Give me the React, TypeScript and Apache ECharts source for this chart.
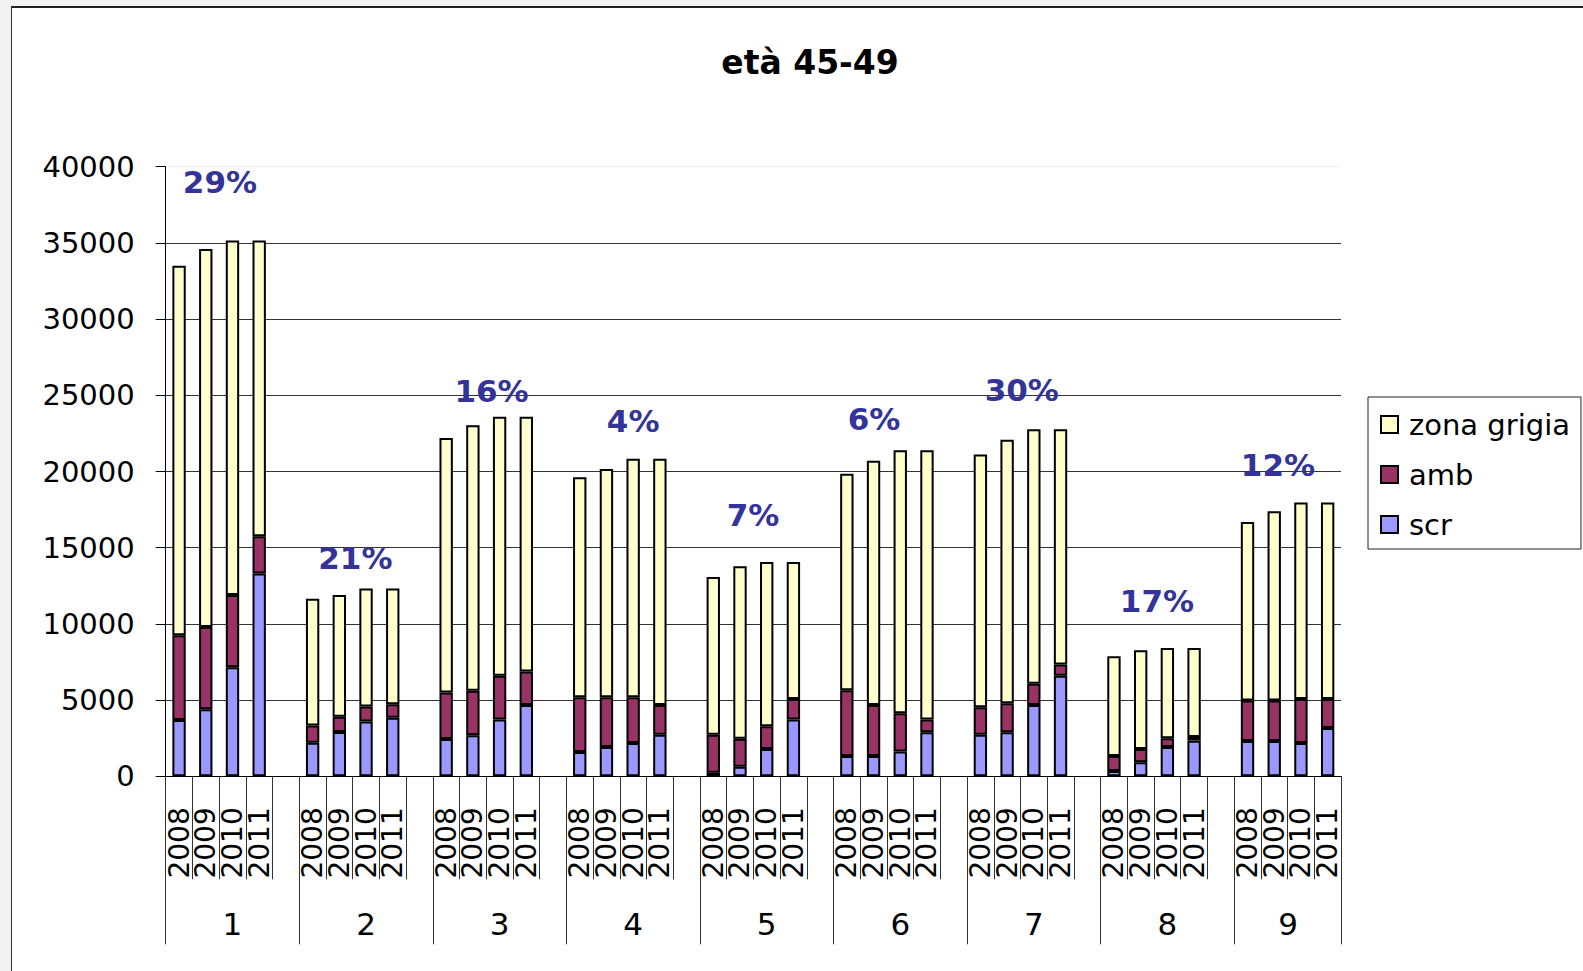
import React, { useEffect, useRef } from 'react';
import * as echarts from 'echarts';

const FONT = "'DejaVu Sans'";

const title = 'età 45-49';
const years = ['2008', '2009', '2010', '2011'];
const groups = ['1', '2', '3', '4', '5', '6', '7', '8', '9'];

// per group: 2008, 2009, 2010, 2011
const scr = [
  3700, 4400, 7150, 13300,
  2200, 2900, 3600, 3850,
  2450, 2700, 3720, 4680,
  1600, 1930, 2190, 2730,
  240, 630, 1790, 3720,
  1330, 1330, 1620, 2890,
  2730, 2890, 4680, 6600,
  350, 920, 1930, 2340,
  2320, 2320, 2190, 3170,
];
const amb = [
  5550, 5400, 4750, 2450,
  1130, 1000, 980, 870,
  3050, 2920, 2880, 2190,
  3580, 3250, 2990, 1950,
  2490, 1840, 1490, 1350,
  4310, 3350, 2510, 830,
  1800, 1900, 1400, 730,
  980, 870, 560, 240,
  2650, 2650, 2880, 1900,
];
const zonaGrigia = [
  24250, 24800, 23250, 19400,
  8320, 8000, 7740, 7600,
  16700, 17410, 17000, 16730,
  14440, 14990, 15660, 16160,
  10350, 11310, 10780, 8990,
  14220, 16030, 17260, 17670,
  16580, 17300, 16690, 15440,
  6540, 6480, 5930, 5840,
  11720, 12420, 12890, 12890,
];

const pctText = ['29%', '21%', '16%', '4%', '7%', '6%', '30%', '17%', '12%'];
const pctX = [1.53, 6.6, 11.7, 17.0, 21.49, 26.02, 31.55, 36.61, 41.14];
const pctY = [39000, 14300, 25250, 23300, 17150, 23450, 25350, 11500, 20450];

const yTicks = { min: 0, max: 40000, interval: 5000 };

// build slots: 4 years per group, one blank slot between groups
const yearCats: string[] = [];
const groupCats: string[] = [];
const scrData: (number | string)[] = [];
const ambData: (number | string)[] = [];
const zgData: (number | string)[] = [];
const groupStart: number[] = [];
groups.forEach((g, gi) => {
  groupStart.push(yearCats.length);
  years.forEach((y, yi) => {
    const k = gi * years.length + yi;
    yearCats.push(y);
    groupCats.push('');
    scrData.push(scr[k]);
    ambData.push(amb[k]);
    zgData.push(zonaGrigia[k]);
  });
  if (gi < groups.length - 1) {
    yearCats.push('');
    groupCats.push('');
    scrData.push('-');
    ambData.push('-');
    zgData.push('-');
  }
});
const lastGroup = groups.length - 1;
groups.forEach((g, gi) => {
  const idx = gi < lastGroup ? groupStart[gi] + 2 : groupStart[gi] + 1;
  groupCats[idx] = g;
});
const lastLabelIdx = groupStart[lastGroup] + 1;
const nSlots = yearCats.length;

const barStyle = (color: string) => ({ color, borderColor: '#000', borderWidth: 2 });

export default function App() {
  const ref = useRef<HTMLDivElement>(null);
  useEffect(() => {
    const chart = echarts.init(ref.current!, null, { renderer: 'svg' });
    const splitColors: string[] = [];
    for (let v = yTicks.min; v <= yTicks.max; v += yTicks.interval) {
      splitColors.push(v === yTicks.max ? '#eeeeee' : '#333333');
    }
    chart.setOption({
      animation: false,
      textStyle: { fontFamily: FONT },
      title: {
        text: title,
        left: 805,
        textAlign: 'center',
        top: 41,
        textStyle: { fontFamily: FONT, fontSize: 33, fontWeight: 'bold', color: '#000' },
      },
      legend: {
        orient: 'vertical',
        left: 1368,
        top: 397,
        data: ['zona grigia', 'amb', 'scr'],
        icon: 'rect',
        itemWidth: 17,
        itemHeight: 17,
        itemGap: 21,
        padding: [13, 11, 10, 12],
        backgroundColor: '#fff',
        borderColor: '#222',
        borderWidth: 1,
        borderRadius: 0,
        textStyle: { fontFamily: FONT, fontSize: 29, color: '#000', padding: [0, 0, 0, 6] },
      },
      grid: { left: 165.7, right: 242, top: 166.7, bottom: 194.7, containLabel: false },
      xAxis: [
        {
          type: 'category',
          data: yearCats,
          position: 'bottom',
          axisLine: { show: true, onZero: false, lineStyle: { color: '#000', width: 1 } },
          axisTick: { show: true, interval: 0, length: 103, lineStyle: { color: '#333', width: 1 } },
          axisLabel: {
            interval: 0,
            rotate: 90,
            margin: 31,
            fontSize: 28,
            fontFamily: FONT,
            color: '#000',
          },
          splitLine: { show: false },
        },
        {
          type: 'category',
          data: groupCats,
          position: 'bottom',
          axisLine: { show: false, onZero: false },
          axisTick: {
            show: true,
            interval: (i: number) => groupStart.includes(i),
            length: 168,
            lineStyle: { color: '#333', width: 1 },
          },
          axisLabel: {
            interval: (i: number) => groupCats[i] !== '',
            margin: 132,
            fontSize: 31,
            fontFamily: FONT,
            color: '#000',
            formatter: (v: string, i: number) => (i === lastLabelIdx ? `{last|${v}}` : v),
            rich: {
              last: { fontSize: 31, fontFamily: FONT, color: '#000', padding: [0, 0, 0, 28] },
            },
          },
          splitLine: { show: false },
        },
        { type: 'value', min: -0.5, max: nSlots - 0.5, show: false },
      ],
      yAxis: {
        type: 'value',
        min: yTicks.min,
        max: yTicks.max,
        interval: yTicks.interval,
        axisLine: { show: true, onZero: false, lineStyle: { color: '#000', width: 1 } },
        axisTick: { show: true, inside: false, length: 10, lineStyle: { color: '#000' } },
        axisLabel: {
          margin: 31,
          fontSize: 29,
          fontFamily: FONT,
          color: '#000',
          formatter: (v: number) => String(v),
        },
        splitLine: { show: true, lineStyle: { color: splitColors, width: 1 } },
      },
      series: [
        { name: 'scr', type: 'bar', stack: 'tot', xAxisIndex: 0, barWidth: '50%', data: scrData, itemStyle: barStyle('#9999FF') },
        { name: 'amb', type: 'bar', stack: 'tot', xAxisIndex: 0, barWidth: '50%', data: ambData, itemStyle: barStyle('#993366') },
        { name: 'zona grigia', type: 'bar', stack: 'tot', xAxisIndex: 0, barWidth: '50%', data: zgData, itemStyle: barStyle('#FFFFCC') },
        {
          name: 'pct',
          type: 'scatter',
          xAxisIndex: 2,
          symbolSize: 0,
          silent: true,
          itemStyle: { opacity: 1 },
          data: pctX.map((x, i) => ({ value: [x, pctY[i]], name: pctText[i] })),
          label: {
            show: true,
            position: [0, 0],
            align: 'center',
            verticalAlign: 'middle',
            formatter: (p: any) => p.name,
            fontFamily: FONT,
            fontSize: 31,
            fontWeight: 'bold',
            color: '#333399',
            opacity: 1,
          },
          z: 5,
        },
      ],
    });
    return () => chart.dispose();
  }, []);
  return (
    <div style={{ position: 'fixed', left: 0, top: 0, width: 1583, height: 971, background: '#f2f2f2', overflow: 'hidden' }}>
      <div
        style={{
          position: 'absolute',
          left: 11,
          top: 6,
          width: 1600,
          height: 1000,
          background: '#fff',
          borderTop: '2px solid #222',
          borderLeft: '1px solid #333',
        }}
      />
      <div ref={ref} style={{ position: 'absolute', left: 0, top: 0, width: 1583, height: 971 }} />
    </div>
  );
}
